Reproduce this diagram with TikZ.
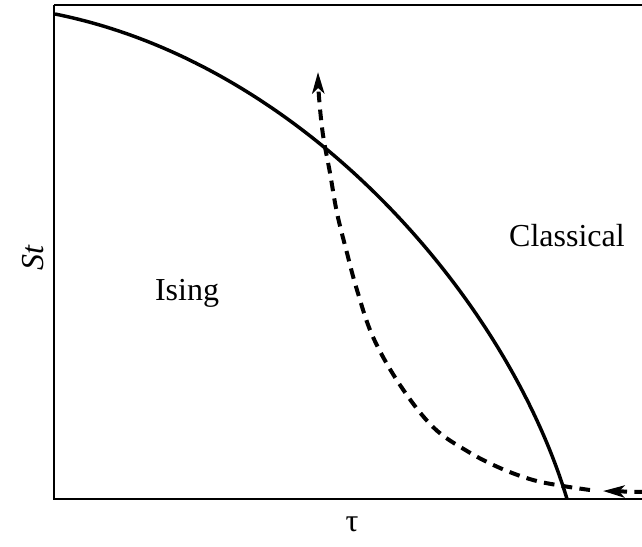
\documentclass[tikz,border=0pt]{standalone}
\usepackage{fontspec}
\setmainfont{Liberation Serif}
\usepackage{tikz}
\usetikzlibrary{arrows.meta, positioning}

\begin{document}
\begin{tikzpicture}[
    x=0.75pt, y=-0.75pt,
    label/.style={font=\fontsize{24}{28}\selectfont, inner sep=0pt},
    frame/.style={line width=2pt},
    boundary/.style={line width=2.6pt},
    path/.style={line width=3pt, dash pattern=on 8pt off 5.5pt},
    tip/.style={-{Stealth[length=16pt, width=9pt, inset=4pt]}}
]
\useasboundingbox (0,0) rectangle (642,546);
\clip (0,0) rectangle (642,546);

% Frame
\draw[frame] (54,5) -- (660,5);
\draw[frame] (54,5) -- (54,499) -- (660,499);

% Axis labels
\node[label, rotate=90] (StLabel) at (33,258) {\itshape St};
\node[label] (TauLabel) at (352,524) {τ};

% Regions
\node[label] (Ising) at (187,293) {Ising};
\node[label] (Classical) at (567,236) {Classical};

% Phase boundary
\coordinate (TopLeft) at (55,14);
\coordinate (Bottom) at (567,499);
\draw[boundary] (TopLeft) .. controls (305,64) and (507,299) .. (Bottom);

% Trajectory
\draw[path, tip] (645,492) -- (603,491);
\draw[path, tip] plot[smooth, tension=0.6] coordinates {(590,490) (563,486) (533,480) (500,468) (467,451) (433,427) (400,385) (373,337) (357,290) (347,253) (337,213) (330,173) (323,135) (319,97) (318,72)};

\end{tikzpicture}
\end{document}
